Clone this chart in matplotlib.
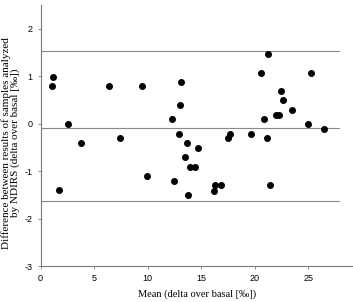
import matplotlib
matplotlib.use('Agg')
import matplotlib.pyplot as plt

plt.rcParams['axes.unicode_minus'] = False

# mean of the two methods (delta over basal, permil)
mean_vals = [1.1, 1.2, 1.76, 2.6, 3.8, 6.4, 7.4, 9.5, 9.9, 12.3, 12.5, 13.0, 13.1,
             12.95, 13.7, 13.5, 13.75, 14.0, 14.4, 14.75, 16.2, 16.3, 16.9,
             17.55, 17.7, 19.7, 20.6, 20.9, 21.2, 21.3, 21.45, 22.0, 22.3,
             22.5, 22.7, 23.5, 25.0, 25.25, 26.5]
# difference between results
diff_vals = [0.8, 0.99, -1.4, 0.0, -0.4, 0.8, -0.3, 0.8, -1.1, 0.09, -1.2, 0.39, 0.89,
             -0.21, -0.4, -0.7, -1.5, -0.91, -0.91, -0.51, -1.41, -1.3, -1.3,
             -0.31, -0.21, -0.21, 1.08, 0.09, -0.31, 1.48, -1.3, 0.19, 0.19,
             0.68, 0.49, 0.29, -0.01, 1.08, -0.11]

mean_diff = -0.08
upper_lim = 1.53
lower_lim = -1.63

fig = plt.figure(figsize=(3.53, 3.02), dpi=100)
ax = fig.add_axes([0.115, 0.119, 0.885, 0.864])

ax.scatter(mean_vals, diff_vals, s=16, color='black', zorder=3)
for yv in [upper_lim, mean_diff, lower_lim]:
    ax.plot([0, 27.9], [yv, yv], color='#888888', lw=0.8)

ax.set_xlim(0, 29.2)
ax.set_ylim(-3, 2.5)
ax.set_xticks([0, 5, 10, 15, 20, 25])
ax.set_yticks([-3, -2, -1, 0, 1, 2])
for s in ['top', 'right']:
    ax.spines[s].set_visible(False)
for s in ['left', 'bottom']:
    ax.spines[s].set_color('#777777')
    ax.spines[s].set_linewidth(0.8)
ax.tick_params(labelsize=6.5, length=2.5, width=0.6, color='#777777', pad=3.5)
for lab in ax.get_xticklabels() + ax.get_yticklabels():
    lab.set_family('Liberation Sans')

ax.set_xlabel('Mean (delta over basal [‰])', family='Liberation Serif', fontsize=7.5, labelpad=4)
ax.set_ylabel('Difference between results of samples analyzed\nby NDIRS (delta over basal [‰])',
              family='Liberation Serif', fontsize=8.0, linespacing=0.95)
ax.yaxis.set_label_coords(-0.065, 0.473)

fig.savefig('out.png', dpi=100)
